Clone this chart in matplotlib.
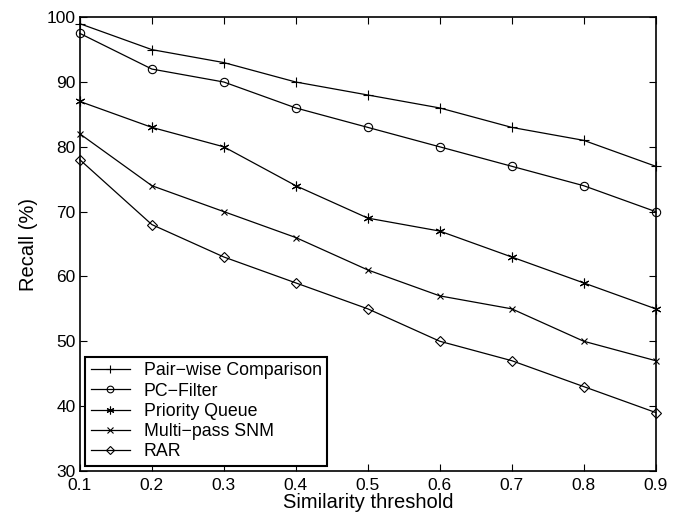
import matplotlib
matplotlib.use("Agg")
import matplotlib.pyplot as plt

plt.rcParams['font.family'] = ['Liberation Sans', 'DejaVu Sans']

thresholds = [0.1, 0.2, 0.3, 0.4, 0.5, 0.6, 0.7, 0.8, 0.9]
pairwise = [99, 95, 93, 90, 88, 86, 83, 81, 77]
pc_filter = [97.5, 92, 90, 86, 83, 80, 77, 74, 70]
priority_queue = [87, 83, 80, 74, 69, 67, 63, 59, 55]
multipass_snm = [82, 74, 70, 66, 61, 57, 55, 50, 47]
rar = [78, 68, 63, 59, 55, 50, 47, 43, 39]

series = [
    ("Pair\u2212wise Comparison", pairwise, "+", 7, "k"),
    ("PC\u2212Filter", pc_filter, "o", 6, "none"),
    ("Priority Queue", priority_queue, (6, 2, 0), 7, "k"),
    ("Multi\u2212pass SNM", multipass_snm, "x", 5, "k"),
    ("RAR", rar, "D", 5, "none"),
]

fig = plt.figure(figsize=(6.83, 5.22), dpi=100)
ax = fig.add_axes([0.117, 0.098, 0.843, 0.869])

for name, vals, marker, ms, mfc in series:
    ax.plot(thresholds, vals, color="k", linewidth=0.9, marker=marker,
            markersize=ms, markerfacecolor=mfc, markeredgecolor="k",
            markeredgewidth=0.8, label=name, clip_on=False)

ax.set_xlim(0.1, 0.9)
ax.set_ylim(30, 100)
ax.set_xticks(thresholds)
ax.set_xticklabels([f"{t:.1f}" for t in thresholds])
ax.set_yticks(range(30, 101, 10))
ax.tick_params(direction="in", top=True, right=True, labelsize=12.5, length=5, width=0.8)
ax.tick_params(axis="y", pad=3)
ax.tick_params(axis="x", pad=5)
for s in ax.spines.values():
    s.set_linewidth(1.2)

ax.set_xlabel("Similarity threshold", fontsize=14.5, labelpad=0)
ax.set_ylabel("Recall (%)", fontsize=14.5, labelpad=6)

leg = ax.legend(loc="lower left", fontsize=12.8, frameon=True, fancybox=False,
                edgecolor="k", framealpha=1, handlelength=2.2, labelspacing=0.18,
                borderpad=0.3, handletextpad=0.8, borderaxespad=0.3, markerscale=0.8)
leg.get_frame().set_linewidth(1.5)

fig.savefig("out.png", dpi=100)
